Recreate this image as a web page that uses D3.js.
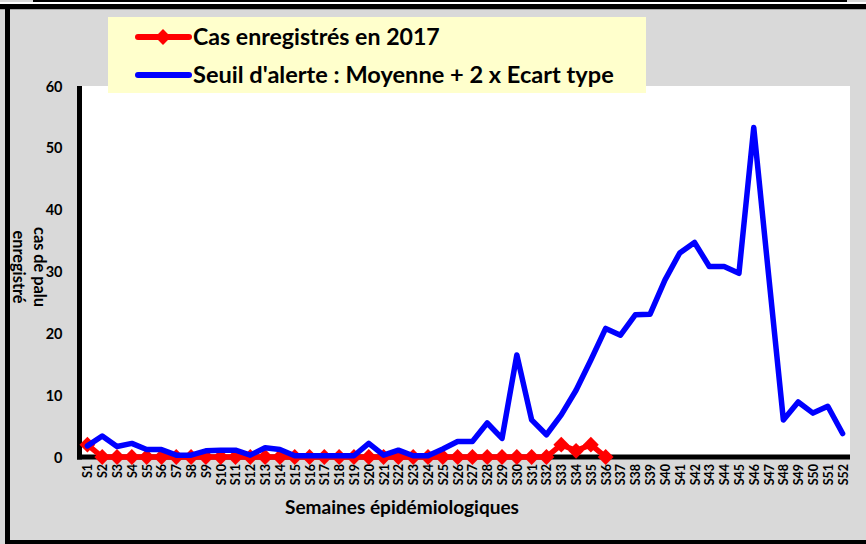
<!DOCTYPE html>
<html><head><meta charset="utf-8">
<script src="https://cdn.jsdelivr.net/npm/d3@7"></script>
<style>
body{margin:0;background:#d9d9d9}
svg{display:block}
text{font-family:Lato,"Open Sans",sans-serif;font-weight:bold;fill:#000}
</style>
</head><body>
<svg id="c" width="866" height="544"></svg>
<script>
const weeks = d3.range(1, 53).map(i => "S" + i);
const cases2017 = [2,0,0,0,0,0,0,0,0,0,0,0,0,0,0,0,0,0,0,0,0,0,0,0,0,0,0,0,0,0,0,0,2,1,2,0];
const threshold = [1.8,3.4,1.7,2.2,1.2,1.2,0.3,0.3,1.0,1.1,
                   1.1,0.3,1.5,1.2,0.2,0.2,0.2,0.2,0.2,2.2,
                   0.3,1.1,0.2,0.2,1.3,2.5,2.5,5.5,3.0,16.5,
                   6.0,3.6,6.8,10.8,15.7,20.8,19.7,23.0,23.1,28.6,
                   33.0,34.7,30.8,30.8,29.7,53.3,29.5,6.0,8.9,7.1,
                   8.2,3.8];
const yTicks = [0,10,20,30,40,50,60];
const legendLabels = ["Cas enregistrés en 2017", "Seuil d'alerte : Moyenne + 2 x Ecart type"];
const yTitle = ["cas de palu", "enregistré"];
const xTitle = "Semaines épidémiologiques";

const svg = d3.select("#c");
const W = 866, H = 544;
const L = 80, R = 850, T = 86, B = 457;

function fit(sel, w, measure) {
  const n = (measure || sel).node();
  const fs = parseFloat(sel.attr("font-size"));
  const len = n.getComputedTextLength();
  sel.attr("font-size", (fs * w / len).toFixed(2));
}

// background & frame
svg.append("rect").attr("width", W).attr("height", H).attr("fill", "#d9d9d9");
svg.append("rect").attr("x", 33).attr("y", 0).attr("width", 814).attr("height", 2).attr("fill", "#000");
svg.append("rect").attr("x", 0).attr("y", 2).attr("width", W).attr("height", 2).attr("fill", "#fff");
svg.append("rect").attr("x", 0).attr("y", 4).attr("width", W).attr("height", 5).attr("fill", "#000");
svg.append("rect").attr("x", 0).attr("y", 9).attr("width", W).attr("height", 1).attr("fill", "#a6a6a6");
svg.append("rect").attr("x", 5).attr("y", 4).attr("width", 5).attr("height", 540).attr("fill", "#000");
svg.append("rect").attr("x", 5).attr("y", 540).attr("width", W).attr("height", 4).attr("fill", "#000");

// plot area
svg.append("rect").attr("x", L).attr("y", T).attr("width", R - L).attr("height", B - T).attr("fill", "#fff");

const x = d3.scalePoint().domain(weeks).range([L, R]).padding(0.5);
const y = d3.scaleLinear().domain([0, 60]).range([B, T]);

// y axis
const ya = svg.append("g").attr("transform", `translate(${L - 0.5},0)`)
  .call(d3.axisLeft(y).tickValues(yTicks).tickSize(0).tickPadding(17));
ya.select(".domain").attr("stroke", "#000").attr("stroke-width", 5).attr("d", `M0,${T}V${B + 2.5}`);
ya.selectAll("text").attr("font-size", 14.5).attr("font-family", "Lato").attr("font-weight", "bold").attr("dy", "0.35em");

// x axis
const xa = svg.append("g").attr("transform", `translate(0,${B})`)
  .call(d3.axisBottom(x).tickSize(0).tickPadding(0));
xa.select(".domain").attr("stroke", "#000").attr("stroke-width", 5).attr("d", `M${L - 3},0H${R}`);
xa.selectAll("text").attr("font-size", 12.5).attr("font-family", "Lato").attr("font-weight", "bold")
  .attr("transform", "rotate(-90)").attr("text-anchor", "end")
  .attr("x", -7).attr("y", 0).attr("dy", "0.36em");

// series: red first, blue over it
const line = d3.line().x((d, i) => x(weeks[i])).y(d => y(d));
svg.append("path").datum(cases2017).attr("d", line).attr("fill", "none")
  .attr("stroke", "#ff0000").attr("stroke-width", 5.5).attr("stroke-linejoin", "round");
svg.append("g").selectAll("path").data(cases2017).join("path")
  .attr("d", d3.symbol().type(d3.symbolSquare).size(125))
  .attr("transform", (d, i) => `translate(${x(weeks[i])},${y(d)}) rotate(45)`)
  .attr("fill", "#ff0000");
svg.append("path").datum(threshold).attr("d", line).attr("fill", "none")
  .attr("stroke", "#0000ff").attr("stroke-width", 5.5).attr("stroke-linejoin", "round").attr("stroke-linecap", "round");

// legend
svg.append("rect").attr("x", 108).attr("y", 17).attr("width", 538).attr("height", 76).attr("fill", "#ffffcc");
const legY = [37, 75];
const legCol = ["#ff0000", "#0000ff"];
legendLabels.forEach((lab, i) => {
  svg.append("line").attr("x1", 138).attr("x2", 189).attr("y1", legY[i]).attr("y2", legY[i])
    .attr("stroke", legCol[i]).attr("stroke-width", 6).attr("stroke-linecap", "round");
  if (i === 0) {
    svg.append("path").attr("d", d3.symbol().type(d3.symbolSquare).size(125)())
      .attr("transform", `translate(163,${legY[i]}) rotate(45)`).attr("fill", "#ff0000");
  }
  const t = svg.append("text").attr("x", 193).attr("y", legY[i] + 7.5).attr("font-size", 20).text(lab);
  fit(t, i === 0 ? 247 : 421);
});

// titles
const xt = svg.append("text").attr("x", 402).attr("y", 514).attr("text-anchor", "middle").attr("font-size", 16).text(xTitle);
fit(xt, 234);
const yt = svg.append("text").attr("transform", "translate(28,267) rotate(90)").attr("text-anchor", "middle").attr("font-size", 15);
const ys1 = yt.append("tspan").attr("x", 0).attr("y", -6).text(yTitle[0]);
yt.append("tspan").attr("x", 0).attr("y", 15).text(yTitle[1]);
fit(yt, 80, ys1);
</script>
</body></html>
